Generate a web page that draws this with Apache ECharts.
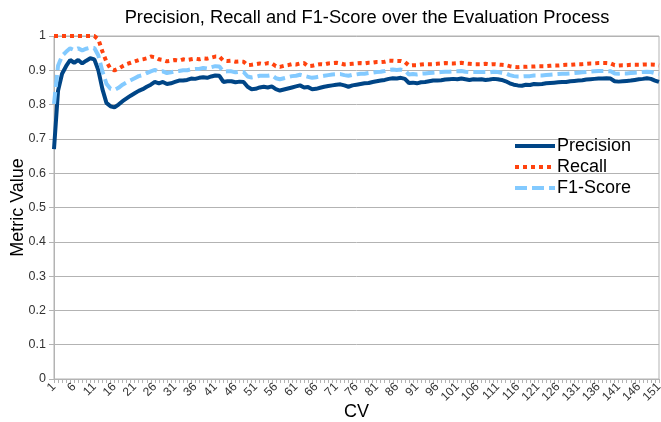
<!DOCTYPE html>
<html>
<head>
<meta charset="utf-8">
<script src="https://cdn.jsdelivr.net/npm/echarts@6/dist/echarts.min.js"></script>
<style>
  html, body { margin: 0; padding: 0; background: #fff; }
  #chart { width: 661px; height: 422px; }
</style>
</head>
<body>
<div id="chart"></div>
<script>
// CV folds 1..151
const cvLabels = [];
for (let i = 1; i <= 151; i++) cvLabels.push(String(i));

const precision = [
  0.670, 0.840, 0.890, 0.912, 0.930, 0.922, 0.930, 0.920, 0.928, 0.935,
  0.932, 0.900, 0.845, 0.805, 0.795, 0.792, 0.800, 0.810, 0.818, 0.826,
  0.833, 0.840, 0.845, 0.852, 0.858, 0.866, 0.862, 0.866, 0.860, 0.862,
  0.866, 0.870, 0.870, 0.872, 0.876, 0.875, 0.878, 0.880, 0.878, 0.882,
  0.885, 0.884, 0.866, 0.868, 0.868, 0.865, 0.867, 0.866, 0.852, 0.845,
  0.846, 0.850, 0.852, 0.850, 0.853, 0.845, 0.841, 0.844, 0.847, 0.850,
  0.853, 0.856, 0.850, 0.851, 0.845, 0.846, 0.849, 0.852, 0.854, 0.856,
  0.858, 0.859, 0.856, 0.852, 0.856, 0.858, 0.860, 0.862, 0.863, 0.866,
  0.868, 0.870, 0.872, 0.875, 0.877, 0.876, 0.878, 0.875, 0.863, 0.864,
  0.862, 0.865, 0.866, 0.868, 0.870, 0.870, 0.871, 0.873, 0.874, 0.875,
  0.874, 0.876, 0.874, 0.872, 0.874, 0.873, 0.874, 0.872, 0.873, 0.875,
  0.874, 0.872, 0.868, 0.862, 0.858, 0.856, 0.855, 0.858, 0.857, 0.860,
  0.859, 0.860, 0.862, 0.863, 0.864, 0.865, 0.866, 0.866, 0.868, 0.869,
  0.870, 0.871, 0.873, 0.874, 0.875, 0.876, 0.876, 0.877, 0.876, 0.868,
  0.867, 0.868, 0.869, 0.870, 0.872, 0.874, 0.875, 0.877, 0.875, 0.870,
  0.866
];

const recall = [
  1.000, 1.000, 1.000, 1.000, 1.000, 1.000, 1.000, 1.000, 1.000, 1.000,
  1.000, 0.990, 0.955, 0.925, 0.905, 0.900, 0.905, 0.912, 0.918, 0.922,
  0.926, 0.930, 0.932, 0.935, 0.940, 0.938, 0.932, 0.930, 0.926, 0.928,
  0.930, 0.928, 0.932, 0.930, 0.932, 0.934, 0.932, 0.935, 0.934, 0.937,
  0.940, 0.940, 0.928, 0.927, 0.928, 0.925, 0.926, 0.925, 0.915, 0.916,
  0.918, 0.920, 0.918, 0.921, 0.920, 0.912, 0.910, 0.913, 0.915, 0.918,
  0.917, 0.920, 0.921, 0.912, 0.913, 0.916, 0.918, 0.917, 0.920, 0.921,
  0.922, 0.920, 0.917, 0.918, 0.919, 0.920, 0.921, 0.920, 0.922, 0.922,
  0.924, 0.924, 0.925, 0.928, 0.928, 0.927, 0.927, 0.924, 0.914, 0.915,
  0.915, 0.917, 0.918, 0.918, 0.918, 0.919, 0.920, 0.921, 0.920, 0.920,
  0.921, 0.922, 0.920, 0.919, 0.918, 0.918, 0.918, 0.919, 0.917, 0.918,
  0.917, 0.916, 0.915, 0.912, 0.910, 0.909, 0.910, 0.910, 0.911, 0.911,
  0.912, 0.912, 0.912, 0.913, 0.914, 0.914, 0.915, 0.916, 0.916, 0.917,
  0.918, 0.918, 0.919, 0.920, 0.920, 0.921, 0.921, 0.921, 0.920, 0.915,
  0.914, 0.915, 0.915, 0.916, 0.916, 0.916, 0.917, 0.917, 0.917, 0.916,
  0.914
];

const f1Score = [
  0.802, 0.913, 0.942, 0.954, 0.964, 0.959, 0.964, 0.958, 0.963, 0.966,
  0.965, 0.943, 0.897, 0.861, 0.846, 0.843, 0.849, 0.858, 0.865, 0.871,
  0.877, 0.883, 0.886, 0.892, 0.897, 0.901, 0.896, 0.897, 0.892, 0.894,
  0.897, 0.898, 0.900, 0.900, 0.903, 0.904, 0.904, 0.907, 0.905, 0.909,
  0.912, 0.911, 0.896, 0.897, 0.897, 0.894, 0.896, 0.895, 0.882, 0.879,
  0.881, 0.884, 0.884, 0.884, 0.886, 0.877, 0.874, 0.877, 0.880, 0.883,
  0.884, 0.887, 0.884, 0.881, 0.878, 0.880, 0.882, 0.884, 0.886, 0.888,
  0.889, 0.889, 0.886, 0.884, 0.887, 0.888, 0.890, 0.890, 0.892, 0.893,
  0.895, 0.896, 0.898, 0.901, 0.902, 0.901, 0.902, 0.899, 0.888, 0.889,
  0.888, 0.890, 0.891, 0.892, 0.893, 0.894, 0.895, 0.896, 0.896, 0.897,
  0.897, 0.898, 0.896, 0.895, 0.895, 0.895, 0.895, 0.895, 0.894, 0.896,
  0.895, 0.893, 0.891, 0.886, 0.883, 0.882, 0.882, 0.883, 0.883, 0.885,
  0.885, 0.885, 0.886, 0.887, 0.888, 0.889, 0.890, 0.890, 0.891, 0.892,
  0.893, 0.894, 0.895, 0.896, 0.897, 0.898, 0.898, 0.898, 0.897, 0.891,
  0.890, 0.891, 0.891, 0.892, 0.893, 0.894, 0.895, 0.896, 0.895, 0.892,
  0.889
];

const chart = echarts.init(document.getElementById('chart'));

const font = '"Liberation Sans", Arial, sans-serif';

const option = {
  animation: false,
  backgroundColor: '#fff',
  textStyle: { fontFamily: font },
  title: {
    text: 'Precision, Recall and F1-Score over the Evaluation Process',
    left: 362,
    top: 4,
    textAlign: 'center',
    textStyle: { fontFamily: font, fontSize: 18.3, fontWeight: 'normal', color: '#000' }
  },
  legend: {
    orient: 'vertical',
    left: 508,
    top: 132,
    itemWidth: 40,
    itemHeight: 12,
    itemGap: 3,
    itemStyle: { opacity: 0 },
    lineStyle: { width: 4 },
    textStyle: { fontFamily: font, fontSize: 18, color: '#000', padding: [0, 0, 0, -3] },
    data: ['Precision', 'Recall', 'F1-Score']
  },
  grid: {
    left: 54,
    right: 2,
    top: 36,
    bottom: 43,
    outerBoundsMode: 'none',
    containLabel: false,
    show: true,
    borderColor: '#b3b3b3',
    borderWidth: 1
  },
  xAxis: {
    type: 'category',
    data: cvLabels,
    boundaryGap: false,
    name: 'CV',
    nameLocation: 'middle',
    nameGap: 24,
    nameMoveOverlap: false,
    nameTextStyle: { fontFamily: font, fontSize: 18, color: '#000' },
    axisLine: { lineStyle: { color: '#b3b3b3' } },
    axisTick: { show: true, interval: 0, length: 4, lineStyle: { color: '#b3b3b3' } },
    axisLabel: { interval: 4, rotate: 45, fontSize: 12, color: '#333', margin: 6 },
    splitLine: { show: false }
  },
  yAxis: {
    type: 'value',
    min: 0,
    max: 1,
    interval: 0.1,
    name: 'Metric Value',
    nameLocation: 'middle',
    nameGap: 27,
    nameMoveOverlap: false,
    nameTextStyle: { fontFamily: font, fontSize: 18, color: '#000' },
    axisLine: { show: true, lineStyle: { color: '#b3b3b3' } },
    axisTick: { show: true, length: 5, lineStyle: { color: '#b3b3b3' } },
    axisLabel: { fontSize: 12.5, color: '#333', margin: 8 },
    splitLine: { lineStyle: { color: '#b3b3b3', width: 1 } }
  },
  series: [
    {
      name: 'Precision',
      type: 'line',
      data: precision,
      symbol: 'none',
      color: '#004586',
      lineStyle: { color: '#004586', width: 4 }
    },
    {
      name: 'Recall',
      type: 'line',
      data: recall,
      symbol: 'none',
      color: '#ff420e',
      lineStyle: { color: '#ff420e', width: 4, type: [4, 4] }
    },
    {
      name: 'F1-Score',
      type: 'line',
      data: f1Score,
      symbol: 'none',
      color: '#83caff',
      lineStyle: { color: '#83caff', width: 4, type: [12, 5] }
    }
  ]
};

chart.setOption(option);
</script>
</body>
</html>
